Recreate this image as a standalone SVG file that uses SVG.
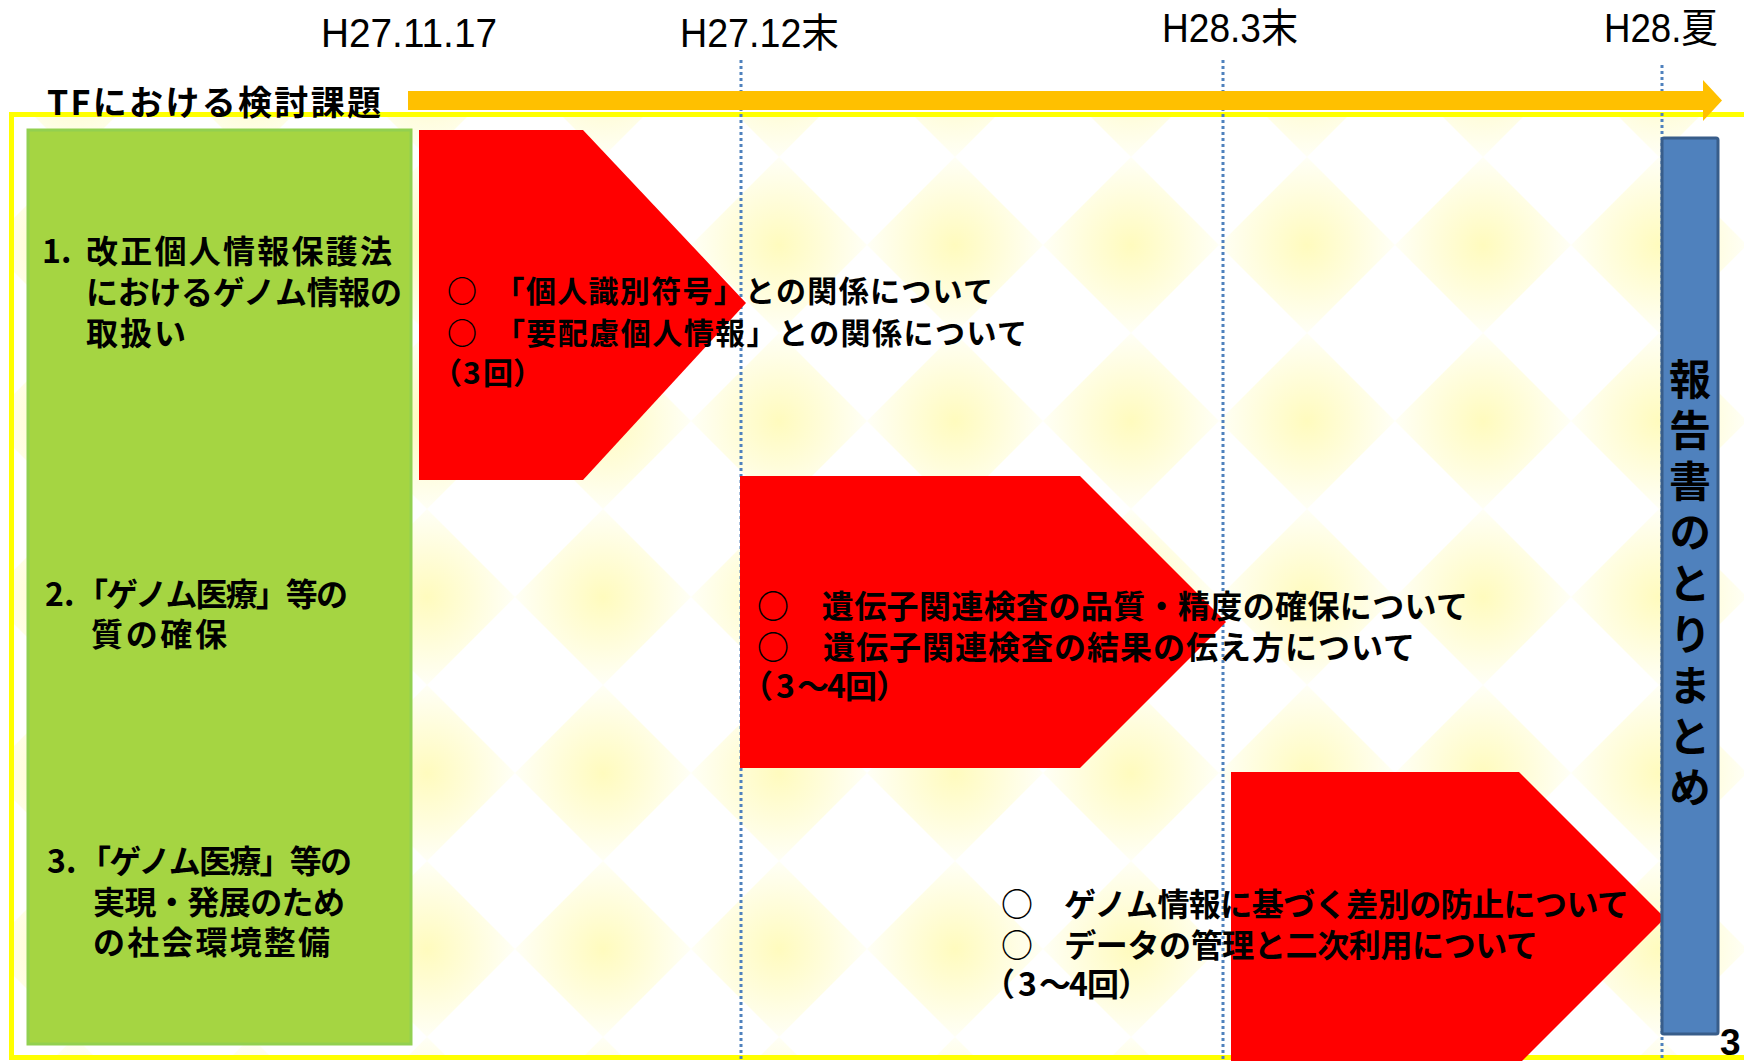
<svg xmlns="http://www.w3.org/2000/svg" width="1744" height="1061" viewBox="0 0 1744 1061">
  <defs>
    <radialGradient id="dg" cx="0.5" cy="0.5" r="0.5">
      <stop offset="0" stop-color="#FFFBBE"/>
      <stop offset="0.55" stop-color="#FFFDDC"/>
      <stop offset="1" stop-color="#FFFFF6"/>
    </radialGradient>
    <pattern id="bgp" patternUnits="userSpaceOnUse" x="515" y="509" width="176" height="176">
      <rect width="176" height="176" fill="#FFFFFF"/>
      <polygon points="88,0 176,88 88,176 0,88" fill="url(#dg)"/>
    </pattern>
  </defs>
  <style>
    .jp { font-family: 'Noto Sans CJK JP', 'Noto Sans', sans-serif; font-weight: bold; fill: #000; }
    .date { font-family: 'Liberation Sans', 'Noto Sans CJK JP', sans-serif; font-size: 40px; fill: #000; }
    .red { fill: #FF0000; }
    .guide { stroke: #4F81BD; stroke-width: 3; stroke-dasharray: 3 3; fill: none; }
  </style>

  <rect x="0" y="0" width="1744" height="1061" fill="#FFFFFF"/>
  <!-- frame -->
  <g id="frame">
    <rect x="11.5" y="114.5" width="1745" height="943" fill="url(#bgp)" stroke="#FFFF00" stroke-width="5"/>
  </g>

  <!-- dates -->
  <g id="dates">
    <text class="date" x="321" y="47" textLength="176" lengthAdjust="spacingAndGlyphs">H27.11.17</text>
    <text class="date" x="680" y="47" textLength="159" lengthAdjust="spacingAndGlyphs">H27.12末</text>
    <text class="date" x="1162" y="42" textLength="136" lengthAdjust="spacingAndGlyphs">H28.3末</text>
    <text class="date" x="1604" y="42" textLength="114" lengthAdjust="spacingAndGlyphs">H28.夏</text>
  </g>

  <!-- connectors: timeline arrow and milestone guides -->
  <g id="connectors">
    <line class="guide" x1="741" y1="60" x2="741" y2="1061"/>
    <line class="guide" x1="1223" y1="60" x2="1223" y2="1061"/>
    <line class="guide" x1="1662" y1="65" x2="1662" y2="1061"/>
    <polygon points="408,91 1703,91 1703,80 1722,100.5 1703,121 1703,110 408,110" fill="#FFC000"/>
  </g>

  <!-- title -->
  <g id="title">
    <text class="jp" x="47" y="115" font-size="34" textLength="334">TFにおける検討課題</text>
  </g>

  <!-- topics column -->
  <g id="topics-bg">
    <rect x="28" y="130" width="383" height="914" fill="#A5D542" stroke="#92D050" stroke-width="3"/>
  </g>
  <g id="topic1">
    <text class="jp" font-size="32"><tspan x="42" y="263">1.</tspan><tspan x="86" y="263" textLength="306">改正個人情報保護法</tspan><tspan x="86" y="304" textLength="316">におけるゲノム情報の</tspan><tspan x="86" y="345" textLength="100">取扱い</tspan></text>
  </g>
  <g id="topic2">
    <text class="jp" font-size="32"><tspan x="45" y="606">2.</tspan><tspan x="76" y="606" textLength="272">「ゲノム医療」等の</tspan><tspan x="91" y="646" textLength="136">質の確保</tspan></text>
  </g>
  <g id="topic3">
    <text class="jp" font-size="32"><tspan x="47" y="873">3.</tspan><tspan x="79" y="873" textLength="273">「ゲノム医療」等の</tspan><tspan x="93" y="914" textLength="252">実現・発展のため</tspan><tspan x="93" y="954" textLength="237">の社会環境整備</tspan></text>
  </g>

  <!-- phase arrows -->
  <g id="phase1">
    <polygon class="red" points="419,130 583,130 746,303 583,480 419,480"/>
    <text class="jp" font-size="30"><tspan x="447" y="302" textLength="546">○　「個人識別符号」との関係について</tspan><tspan x="447" y="344" textLength="580">○　「要配慮個人情報」との関係について</tspan><tspan x="432 463 483 513" y="384">（3回）</tspan></text>
  </g>
  <g id="phase2">
    <polygon class="red" points="740,476 1080,476 1226,622 1080,768 740,768"/>
    <text class="jp" font-size="32"><tspan x="757" y="618" textLength="711">○　遺伝子関連検査の品質・精度の確保について</tspan><tspan x="757" y="659" textLength="658">○　遺伝子関連検査の結果の伝え方について</tspan><tspan x="741 776 797 827 845 876" y="698">（3～4回）</tspan></text>
  </g>
  <g id="phase3">
    <polygon class="red" points="1231,772 1519,772 1665,918 1519,1064 1231,1064"/>
    <text class="jp" font-size="32"><tspan x="1001" y="916" textLength="628">○　ゲノム情報に基づく差別の防止について</tspan><tspan x="1001" y="957" textLength="537">○　データの管理と二次利用について</tspan><tspan x="983 1018 1039 1069 1087 1118" y="996">（3～4回）</tspan></text>
  </g>

  <!-- report box -->
  <g id="report">
    <rect x="1662" y="138" width="56" height="896" rx="2" fill="#4F81BD" stroke="#385D8A" stroke-width="3"/>
    <text class="jp" x="1690" y="358" font-size="42" style="writing-mode: vertical-rl; letter-spacing: 9px;">報告書のとりまとめ</text>
  </g>

  <g id="page-number">
    <text x="1720" y="1055" font-family="'Liberation Sans', sans-serif" font-weight="bold" font-size="37" fill="#000">3</text>
  </g>
</svg>
